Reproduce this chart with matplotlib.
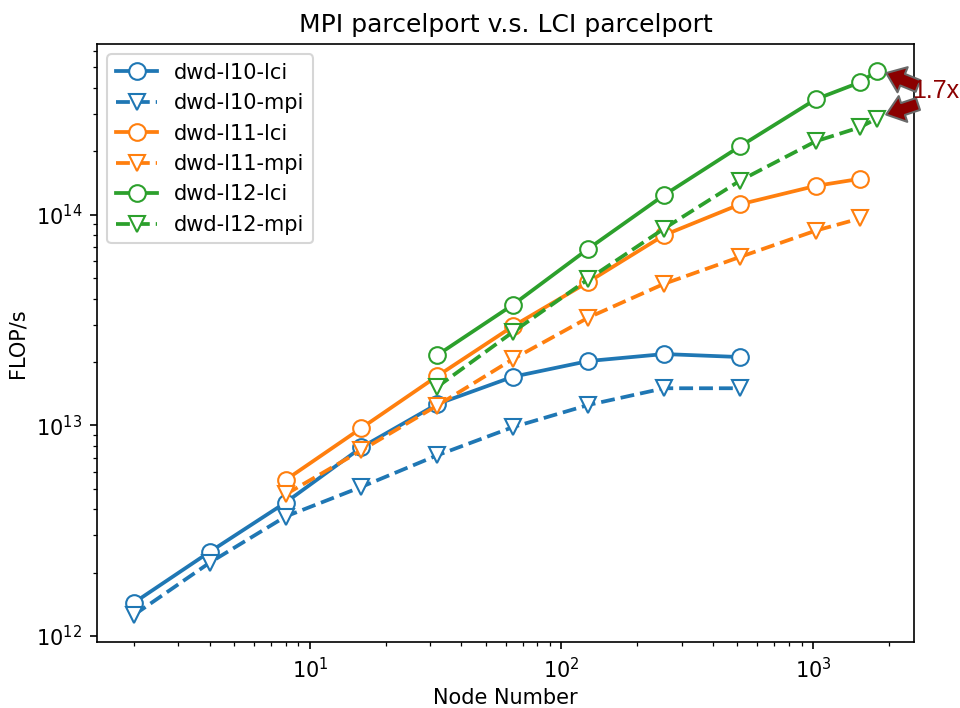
import matplotlib
matplotlib.use("Agg")
import matplotlib.pyplot as plt

nodes_l10 = [2, 4, 8, 16, 32, 64, 128, 256, 512]
l10_lci = [1.44e12, 2.51e12, 4.3e12, 7.85e12, 1.26e13, 1.70e13, 2.02e13, 2.18e13, 2.11e13]
l10_mpi = [1.26e12, 2.23e12, 3.69e12, 5.1e12, 7.2e12, 9.8e12, 1.25e13, 1.50e13, 1.50e13]

nodes_l11 = [8, 16, 32, 64, 128, 256, 512, 1024, 1536]
l11_lci = [5.5e12, 9.7e12, 1.71e13, 2.95e13, 4.8e13, 8.0e13, 1.12e14, 1.37e14, 1.48e14]
l11_mpi = [4.7e12, 7.6e12, 1.24e13, 2.06e13, 3.25e13, 4.7e13, 6.3e13, 8.4e13, 9.6e13]

nodes_l12 = [32, 64, 128, 256, 512, 1024, 1536, 1792]
l12_lci = [2.15e13, 3.73e13, 6.9e13, 1.24e14, 2.11e14, 3.53e14, 4.25e14, 4.8e14]
l12_mpi = [1.52e13, 2.77e13, 4.95e13, 8.6e13, 1.45e14, 2.23e14, 2.6e14, 2.86e14]

speedup_text = "1.7x"

series = [
    ("dwd-l10-lci", nodes_l10, l10_lci, "C0", "-", "o"),
    ("dwd-l10-mpi", nodes_l10, l10_mpi, "C0", "--", "v"),
    ("dwd-l11-lci", nodes_l11, l11_lci, "C1", "-", "o"),
    ("dwd-l11-mpi", nodes_l11, l11_mpi, "C1", "--", "v"),
    ("dwd-l12-lci", nodes_l12, l12_lci, "C2", "-", "o"),
    ("dwd-l12-mpi", nodes_l12, l12_mpi, "C2", "--", "v"),
]

fig = plt.figure(figsize=(6.4, 4.72), dpi=150)
ax = fig.add_axes([0.101, 0.0932, 0.851, 0.8446])

for label, x, y, c, ls, m in series:
    ax.plot(x, y, color=c, linestyle=ls, marker=m, markersize=8,
            markerfacecolor="white", markeredgecolor=c, linewidth=1.8, label=label)

ax.set_xscale("log")
ax.set_yscale("log")
ax.set_xlabel("Node Number", labelpad=3)
ax.set_ylabel("FLOP/s")
ax.set_title("MPI parcelport v.s. LCI parcelport")
ax.legend(loc="upper left")

arrow = dict(facecolor="darkred", edgecolor="dimgray", linewidth=1,
             width=6, headwidth=13, headlength=8.5)
ax.annotate("", xy=(nodes_l12[-1] * 1.09, l12_lci[-1] * 0.98), xytext=(918, 708 - 86),
            textcoords="figure pixels", arrowprops=arrow, annotation_clip=False)
ax.annotate("", xy=(nodes_l12[-1] * 1.09, l12_mpi[-1] * 1.045), xytext=(918, 708 - 104),
            textcoords="figure pixels", arrowprops=arrow, annotation_clip=False)
fig.text(912 / 960, 1 - 91 / 708, speedup_text, ha="left", va="center",
         color="darkred", fontsize=12, family="Liberation Sans")

fig.savefig("out.png", dpi=150)
